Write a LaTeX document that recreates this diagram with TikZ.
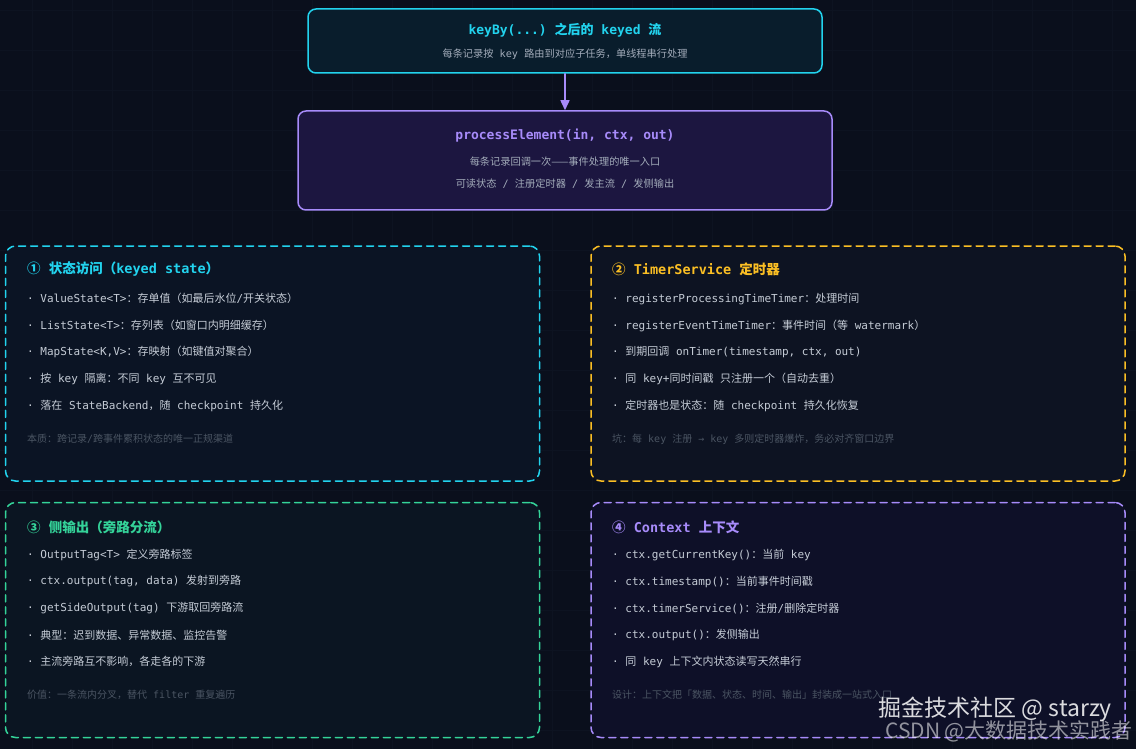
\documentclass[tikz,border=0pt]{standalone}
\usepackage{fontspec}
\setmonofont{DejaVu Sans Mono}
\newfontfamily\cjkfont{Noto Sans CJK SC}
\usetikzlibrary{arrows.meta}

% CJK characters switch to the CJK family by themselves
\XeTeXinterchartokenstate=1
\newXeTeXintercharclass\cjkclass
\newcount\cjkcode
\def\cjkrange#1#2{\cjkcode=#1\relax
  \loop\XeTeXcharclass\cjkcode=\cjkclass
    \advance\cjkcode by 1
    \ifnum\cjkcode<#2\repeat}
\cjkrange{"4E00}{"A000}
\cjkrange{"3000}{"3040}
\cjkrange{"FF00}{"FFF0}
\cjkrange{"2460}{"2500}
\cjkrange{"2014}{"2015}
\XeTeXinterchartoks 0 \cjkclass = {\cjkfont}
\XeTeXinterchartoks 4095 \cjkclass = {\cjkfont}
\XeTeXinterchartoks \cjkclass 0 = {\ttfamily}
\XeTeXinterchartoks \cjkclass 4095 = {\ttfamily}
\newcommand{\plainmix}{\XeTeXinterchartokenstate=0\relax\cjkfont}

\definecolor{bgc}{HTML}{0A0F1C}
\definecolor{gridc}{HTML}{0D1321}
\definecolor{cyanc}{HTML}{22D3EE}
\definecolor{amberc}{HTML}{FBBF24}
\definecolor{greenc}{HTML}{34D399}
\definecolor{purplec}{HTML}{A78BFA}
\definecolor{txtc}{HTML}{C5CCD6}
\definecolor{subc}{HTML}{A3ACBA}
\definecolor{notec}{HTML}{4B5563}

\begin{document}
\begin{tikzpicture}
     [x=1pt,y=-1pt,line cap=round,
      % Styles
        box/.style={rounded corners=8pt,line width=1.5pt,inner sep=0pt},
        panel/.style={rounded corners=10pt,line width=1.5pt,dash pattern=on 7pt off 5pt,
          inner sep=0pt,minimum width=534pt,minimum height=235pt},
        title/.style={inner sep=0pt,font=\ttfamily\bfseries\fontsize{13}{15}\selectfont},
        sub/.style={inner sep=0pt,text=subc,font=\ttfamily\fontsize{10.2}{12}\selectfont},
        head/.style={anchor=west,inner sep=0pt,font=\ttfamily\bfseries\fontsize{13.5}{16}\selectfont},
        item/.style={anchor=west,inner sep=0pt,text=txtc,font=\ttfamily\fontsize{11}{13}\selectfont},
        note/.style={anchor=west,inner sep=0pt,text=notec,font=\ttfamily\fontsize{10}{12}\selectfont},
        flow/.style={-{Triangle[length=10pt,width=9pt]},line width=1.5pt,draw=purplec}]
    \useasboundingbox (0,0) rectangle (1136,749);
    \fill[bgc] (0,0) rectangle (1136,749);
    \foreach \gx in {32,72,...,1112} \draw[gridc] (\gx,0) -- (\gx,749);
    \foreach \gy in {10,50,...,730} \draw[gridc] (0,\gy) -- (1136,\gy);

    % keyed stream and the one entry point
    \node[box,draw=cyanc,fill={rgb,255:red,9;green,29;blue,44},minimum width=514pt,minimum height=64pt]
      (keyby) at (565,41) {};
    \node[title,text=cyanc] (keybyT) at (565,30) {keyBy(...) 之后的 keyed 流};
    \node[sub] (keybyS) at (565,54) {每条记录按 key 路由到对应子任务，单线程串行处理};

    \node[box,draw=purplec,fill={rgb,255:red,28;green,22;blue,64},minimum width=534pt,minimum height=99pt]
      (proc) at (565,160.5) {};
    \node[title,text=purplec] (procT) at (565,136) {processElement(in, ctx, out)};
    \node[sub] (procA) at (565,162) {每条记录回调一次——事件处理的唯一入口};
    \node[sub] (procB) at (565,184) {可读状态 / 注册定时器 / 发主流 / 发侧输出};

    \draw[flow] (keyby) -- (proc);

    % four panels
    \node[panel,draw=cyanc,fill={rgb,255:red,11;green,20;blue,36}] (state) at (272.5,363.5) {};
    \node[head,text=cyanc] (stateT) at (27,269) {① 状态访问（keyed state）};
    \foreach \txt [count=\i] in {{· ValueState<T>：存单值（如最后水位/开关状态）},
        {· ListState<T>：存列表（如窗口内明细缓存）},
        {· MapState<K,V>：存映射（如键值对聚合）},
        {· 按 key 隔离：不同 key 互不可见},
        {· 落在 StateBackend，随 checkpoint 持久化}}
      \node[item] (state\i) at (27,272+26.75*\i) {\txt};
    \node[note] (stateN) at (27,439) {本质：跨记录/跨事件累积状态的唯一正规渠道};

    \node[panel,draw=amberc,fill={rgb,255:red,13;green,19;blue,34}] (timer) at (858,363.5) {};
    \node[head,text=amberc] (timerT) at (612,269) {② TimerService 定时器};
    \foreach \txt [count=\i] in {{· registerProcessingTimeTimer：处理时间},
        {· registerEventTimeTimer：事件时间（等 watermark）},
        {· 到期回调 onTimer(timestamp, ctx, out)},
        {· 同 key+同时间戳 只注册一个（自动去重）},
        {· 定时器也是状态：随 checkpoint 持久化恢复}}
      \node[item] (timer\i) at (612,272+26.75*\i) {\txt};
    \node[note] (timerN) at (612,439) {坑：每 key 注册 → key 多则定时器爆炸，务必对齐窗口边界};

    \node[panel,draw=greenc,fill={rgb,255:red,11;green,21;blue,34}] (side) at (272.5,620) {};
    \node[head,text=greenc] (sideT) at (27,527) {③ 侧输出（旁路分流）};
    \foreach \txt [count=\i] in {{· OutputTag<T> 定义旁路标签},
        {· ctx.output(tag, data) 发射到旁路},
        {· getSideOutput(tag) 下游取回旁路流},
        {· 典型：迟到数据、异常数据、监控告警},
        {· 主流旁路互不影响，各走各的下游}}
      \node[item] (side\i) at (27,528+26.75*\i) {\txt};
    \node[note] (sideN) at (27,695) {价值：一条流内分叉，替代 filter 重复遍历};

    \node[panel,draw=purplec,fill={rgb,255:red,14;green,16;blue,40}] (ctx) at (858,620) {};
    \node[head,text=purplec] (ctxT) at (612,527) {④ Context 上下文};
    \foreach \txt [count=\i] in {{· ctx.getCurrentKey()：当前 key},
        {· ctx.timestamp()：当前事件时间戳},
        {· ctx.timerService()：注册/删除定时器},
        {· ctx.output()：发侧输出},
        {· 同 key 上下文内状态读写天然串行}}
      \node[item] (ctx\i) at (612,528+26.75*\i) {\txt};
    \node[note] (ctxN) at (612,695) {设计：上下文把「数据、状态、时间、输出」封装成一站式入口};

    % site marks
    \node[anchor=east,inner sep=0pt,text=white,opacity=0.85,font=\fontsize{23}{25}\selectfont]
      (markA) at (1112,709) {\plainmix 掘金技术社区 @ starzy};
    \node[anchor=east,inner sep=0pt,text=white,opacity=0.55,font=\fontsize{21}{23}\selectfont]
      (markB) at (1133,731) {\plainmix CSDN @大数据技术实践者};
  \end{tikzpicture}
\end{document}
